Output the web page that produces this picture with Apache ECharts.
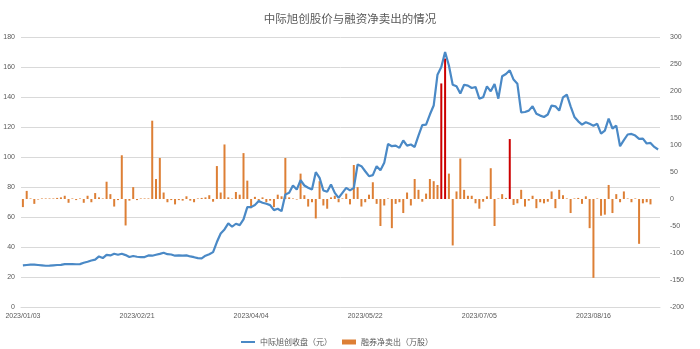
<!DOCTYPE html>
<html>
<head>
<meta charset="utf-8">
<script src="https://cdn.jsdelivr.net/npm/echarts@6/dist/echarts.min.js"></script>
<style>
html,body{margin:0;padding:0;background:#fff;}
#chart{width:700px;height:349px;}
</style>
</head>
<body>
<div id="chart"></div>
<script>
const titleText = '中际旭创股价与融资净卖出的情况';
const lineName = '中际旭创收盘（元）';
const barName = '融券净卖出（万股）';

const dates = [
'2023/01/03','2023/01/04','2023/01/05','2023/01/06','2023/01/09','2023/01/10','2023/01/11','2023/01/12','2023/01/13',
'2023/01/16','2023/01/17','2023/01/18','2023/01/19','2023/01/20','2023/01/30','2023/01/31',
'2023/02/01','2023/02/02','2023/02/03','2023/02/06','2023/02/07','2023/02/08','2023/02/09','2023/02/10',
'2023/02/13','2023/02/14','2023/02/15','2023/02/16','2023/02/17','2023/02/20','2023/02/21','2023/02/22','2023/02/23','2023/02/24',
'2023/02/27','2023/02/28',
'2023/03/01','2023/03/02','2023/03/03','2023/03/06','2023/03/07','2023/03/08','2023/03/09','2023/03/10',
'2023/03/13','2023/03/14','2023/03/15','2023/03/16','2023/03/17','2023/03/20','2023/03/21','2023/03/22','2023/03/23','2023/03/24',
'2023/03/27','2023/03/28','2023/03/29','2023/03/30','2023/03/31',
'2023/04/03','2023/04/04','2023/04/06','2023/04/07','2023/04/10','2023/04/11','2023/04/12','2023/04/13','2023/04/14',
'2023/04/17','2023/04/18','2023/04/19','2023/04/20','2023/04/21','2023/04/24','2023/04/25','2023/04/26','2023/04/27','2023/04/28',
'2023/05/04','2023/05/05','2023/05/08','2023/05/09','2023/05/10','2023/05/11','2023/05/12',
'2023/05/15','2023/05/16','2023/05/17','2023/05/18','2023/05/19','2023/05/22','2023/05/23','2023/05/24','2023/05/25','2023/05/26',
'2023/05/29','2023/05/30','2023/05/31',
'2023/06/01','2023/06/02','2023/06/05','2023/06/06','2023/06/07','2023/06/08','2023/06/09',
'2023/06/12','2023/06/13','2023/06/14','2023/06/15','2023/06/16','2023/06/19','2023/06/20','2023/06/21',
'2023/06/26','2023/06/27','2023/06/28','2023/06/29','2023/06/30',
'2023/07/03','2023/07/04','2023/07/05','2023/07/06','2023/07/07','2023/07/10','2023/07/11','2023/07/12','2023/07/13','2023/07/14',
'2023/07/17','2023/07/18','2023/07/19','2023/07/20','2023/07/21','2023/07/24','2023/07/25','2023/07/26','2023/07/27','2023/07/28',
'2023/07/31',
'2023/08/01','2023/08/02','2023/08/03','2023/08/04','2023/08/07','2023/08/08','2023/08/09','2023/08/10','2023/08/11',
'2023/08/14','2023/08/15','2023/08/16','2023/08/17','2023/08/18','2023/08/21','2023/08/22','2023/08/23','2023/08/24','2023/08/25',
'2023/08/28','2023/08/29','2023/08/30','2023/08/31',
'2023/09/01','2023/09/04','2023/09/05','2023/09/06','2023/09/07','2023/09/08'
];

const closePrice = [
27.7,28.0,28.2,28.2,28.0,27.8,27.5,27.6,27.8,28.0,
28.1,28.6,28.6,28.6,28.5,28.6,29.5,30.2,31.0,31.6,
33.7,32.6,34.8,34.4,35.5,34.8,35.5,34.6,33.3,34.0,
33.5,33.3,33.3,34.4,34.2,34.8,35.4,36.2,35.2,35.0,
34.2,34.4,34.2,34.4,33.7,33.2,32.6,32.4,34.2,35.2,
36.6,43.3,49.0,51.7,55.7,53.5,55.5,54.6,58.4,66.6,
66.6,68.0,70.6,69.5,68.8,67.9,64.6,65.5,63.9,75.0,
76.1,81.0,78.3,84.6,81.0,79.5,78.3,89.9,86.1,77.7,
76.8,81.7,76.1,72.8,76.1,79.4,77.7,79.4,95.0,93.9,
90.5,87.2,87.9,93.9,91.2,96.1,108.7,107.2,107.6,106.1,
111.0,107.6,108.3,106.7,114.3,121.2,121.6,128.3,134.3,154.9,
160.0,170.0,161.0,148.2,147.1,142.3,148.2,147.6,146.0,146.7,
138.9,139.8,147.1,143.8,148.7,138.9,153.8,155.3,157.8,151.6,
148.9,129.8,130.0,130.9,133.8,128.9,127.6,126.7,128.3,134.3,
133.8,130.9,139.8,141.6,133.8,126.7,123.8,121.6,123.2,122.1,
120.9,122.1,115.6,117.6,125.6,119.0,120.9,107.2,111.2,115.0,
115.4,114.3,112.1,112.3,109.0,109.4,106.7,105.0
];

const netShortSell = [
-15,15,1,-9,-1,1,1,1,1,2,
3,6,-7,1,-2,1,-7,6,-6,11,
3,1,32,9,-14,-2,81,-49,-3,22,
-2,1,1,1,145,37,76,12,-6,-2,
-10,-2,-3,5,-3,-6,1,2,3,7,
-5,61,12,101,3,1,13,8,85,34,
-17,4,-3,3,-6,-3,-15,8,5,76,
3,1,-1,47,7,-14,-6,-36,33,-12,
-18,3,6,-6,1,10,-10,63,22,-14,
-6,8,31,-9,-50,-12,1,-54,-9,-6,
-26,12,-12,37,17,-5,10,37,33,26,
214,260,47,-86,14,75,17,6,6,-8,
-18,-5,5,57,-50,1,9,2,111,-11,
-8,17,-14,-3,6,-17,-6,-8,-5,14,
-17,17,7,1,-26,1,2,-9,5,-54,
-146,1,-31,-29,26,-26,9,-6,14,1,
-6,1,-83,-8,-6,-10,0,0
];

const highlightDates = ['2023/06/19','2023/06/20','2023/07/17'];

const leftTicks = {min:0, max:180, interval:20};
const rightTicks = {min:-200, max:300, interval:50};

const chart = echarts.init(document.getElementById('chart'), null, {renderer:'canvas'});
const textColor = '#595959';
const lineColor = '#4a89c6';
const barColor = '#dd7f35';
const hiColor = '#cc0000';
const numFont = "'Liberation Sans', 'Noto Sans CJK SC', sans-serif";
const cjkFont = "'Noto Sans CJK SC', sans-serif";

chart.setOption({
  animation:false,
  backgroundColor:'#ffffff',
  title:{
    text:titleText,
    left:'center',
    top:8,
    textStyle:{fontSize:11.5, fontWeight:'normal', color:textColor, fontFamily:cjkFont}
  },
  legend:{
    left:236,
    top:333,
    itemWidth:14,
    itemHeight:5,
    itemGap:10,
    textStyle:{fontSize:8, color:textColor, fontFamily:cjkFont},
    data:[
      {name:lineName, icon:'path://M0,0 L28,0 L28,4 L0,4 Z', itemStyle:{color:lineColor}},
      {name:barName, icon:'rect', itemStyle:{color:barColor}}
    ]
  },
  grid:{left:21, right:40, top:37, bottom:42},
  xAxis:{
    type:'category',
    data:dates,
    boundaryGap:true,
    axisLine:{lineStyle:{color:'#d9d9d9', width:1}},
    axisTick:{show:false},
    axisLabel:{interval:29, color:textColor, fontSize:7, fontFamily:numFont, margin:6}
  },
  yAxis:[
    {
      type:'value', min:leftTicks.min, max:leftTicks.max, interval:leftTicks.interval,
      axisLine:{show:false}, axisTick:{show:false},
      axisLabel:{color:textColor, fontSize:7, fontFamily:numFont, margin:6},
      splitLine:{lineStyle:{color:'#d9d9d9', width:1}}
    },
    {
      type:'value', min:rightTicks.min, max:rightTicks.max, interval:rightTicks.interval,
      position:'right',
      axisLine:{show:false}, axisTick:{show:false},
      axisLabel:{color:textColor, fontSize:7, fontFamily:numFont, margin:10},
      splitLine:{show:false}
    }
  ],
  series:[
    {
      name:lineName,
      type:'line',
      data:closePrice,
      yAxisIndex:0,
      symbol:'none',
      smooth:false,
      z:3,
      lineStyle:{color:lineColor, width:2.2},
      itemStyle:{color:lineColor}
    },
    {
      name:barName,
      type:'bar',
      data:netShortSell,
      yAxisIndex:1,
      barWidth:2,
      z:2,
      itemStyle:{
        color:function(p){ return highlightDates.indexOf(p.name) >= 0 ? hiColor : barColor; }
      }
    }
  ]
});
</script>
</body>
</html>
